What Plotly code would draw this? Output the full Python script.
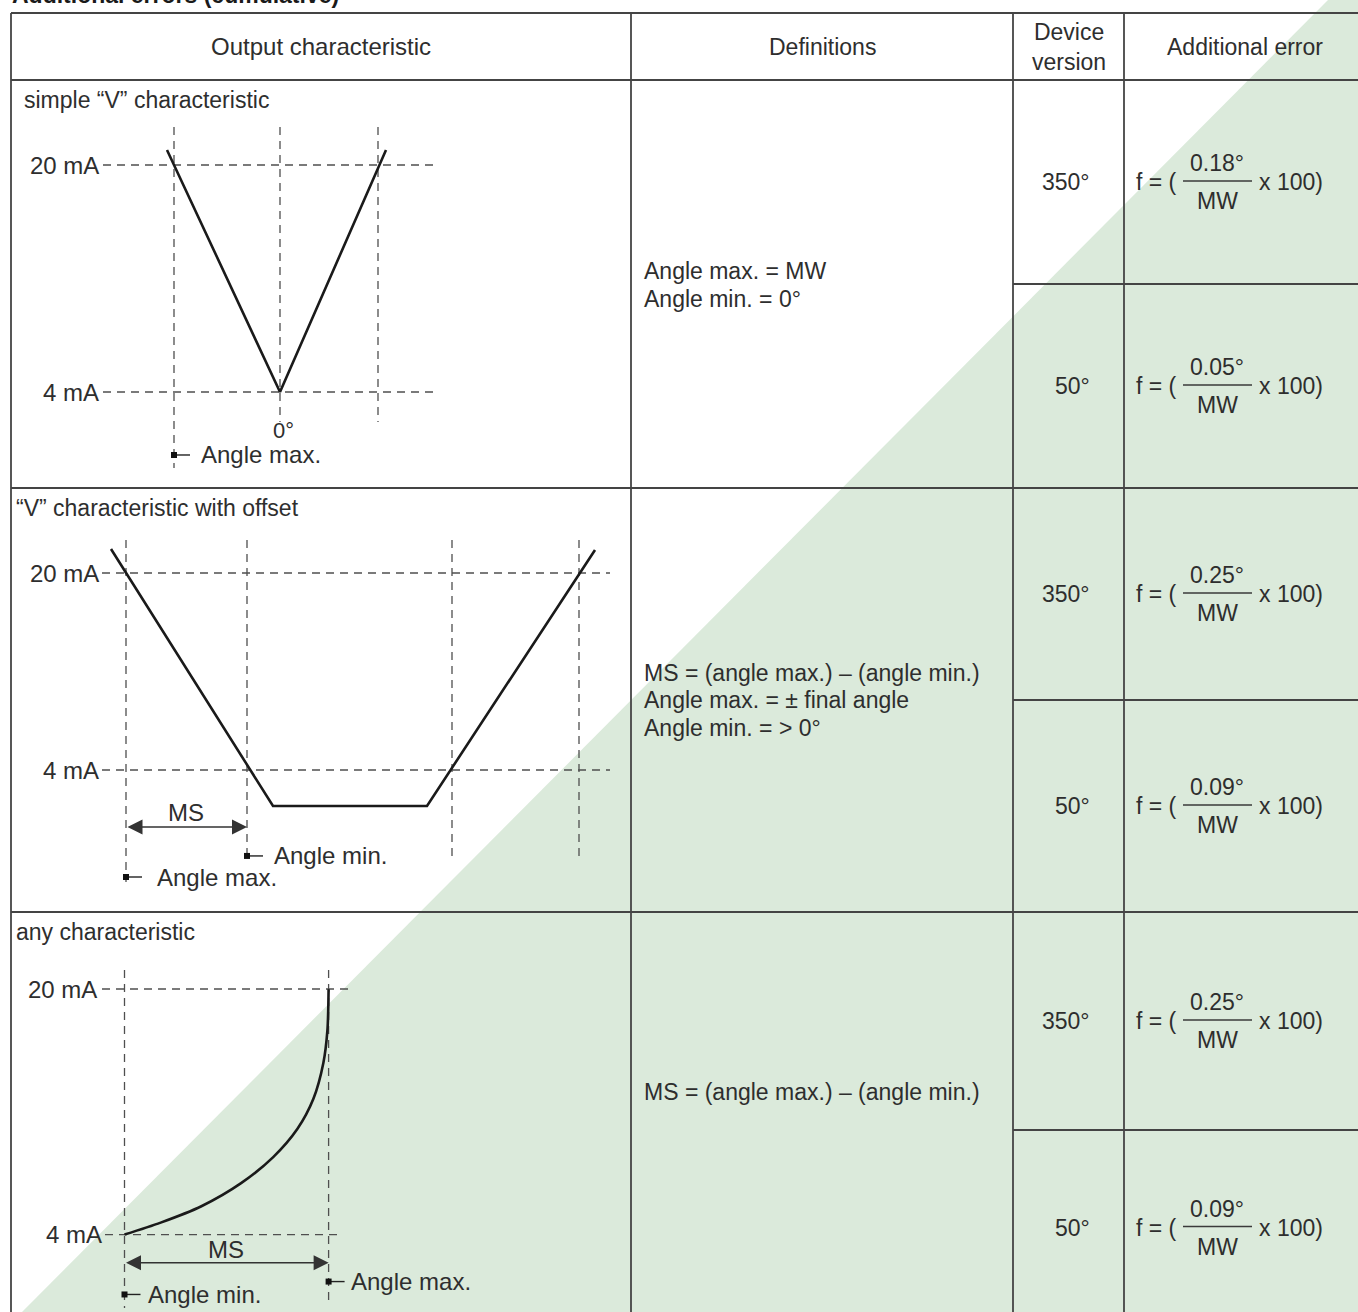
import plotly.graph_objects as go

W, H = 1358, 1312

# ---------------- data ----------------
title_text = "Additional errors (cumulative)"
header_labels = ["Output characteristic", "Definitions", "Device<br>version", "Additional error"]
row_titles = ["simple “V” characteristic", "“V” characteristic with offset", "any characteristic"]
definitions = [
    ["Angle max. = MW", "Angle min. = 0°"],
    ["MS = (angle max.) – (angle min.)", "Angle max. = ± final angle", "Angle min. = > 0°"],
    ["MS = (angle max.) – (angle min.)"],
]
device_versions = ["350°", "50°"]
error_coeffs = [["0.18°", "0.05°"], ["0.25°", "0.09°"], ["0.25°", "0.09°"]]
current_levels = [20, 4]
current_labels = ["20 mA", "4 mA"]

# diagram 1: simple V (schematic angle units, current in mA)
d1_curve_angle = [-11.3, 0, 10.6]
d1_curve_mA = [21.06, 4, 21.06]
d1_guide_angle = [-10.6, 0, 9.8]
d1_guide_bottom = [-1.36, 1.89, 1.89]

# diagram 2: V with offset
d2_curve_angle = [-23.9, -7.7, 7.7, 24.5]
d2_curve_mA = [21.95, 1.08, 1.08, 21.87]
d2_guide_angle = [-22.4, -10.3, 10.2, 22.9]
d2_guide_bottom = [-5.1, -3.31, -3.31, -3.31]

# diagram 3: any characteristic
d3_curve_angle = [0, 3.62, 7.64, 11.66, 14.87, 17.28, 18.89, 19.89, 20.29, 20.41]
d3_curve_mA = [4.0, 4.78, 5.83, 7.35, 9.05, 10.88, 12.85, 15.2, 17.3, 19.99]
d3_guide_angle = [0, 20.41]
d3_guide_bottom = [-0.78, -0.39]

# ---------------- layout geometry (px) ----------------
col_x = [11, 631, 1013, 1124, 1364]
row_y = [13, 80, 488, 912, 1325]
mid_y = [284, 700, 1130]
def_center = [285, 700, 1092]
GREEN = "#dbeadb"
LINE = "#444444"
TXT = "#2e2e2e"
FONT = "Liberation Sans, Arial, sans-serif"
FS = 23
FD = 24

# diagram calibrations: (px of angle 0, px per unit, py of 4 mA, py of 20 mA)
calib = {
    2: (280, 10.0, 392, 165),
    3: (350, 10.0, 770, 573),
    4: (124.5, 10.0, 1234.6, 989),
}

fig = go.Figure()

layout_axes = dict(
    xaxis=dict(range=[0, W], visible=False, domain=[0, 1], fixedrange=True),
    yaxis=dict(range=[H, 0], visible=False, domain=[0, 1], fixedrange=True),
)
for k, (x0, s, p4, p20) in calib.items():
    kk = (p4 - p20) / 16.0
    layout_axes[f"xaxis{k}"] = dict(range=[-x0 / s, (W - x0) / s], visible=False,
                                    overlaying="x", domain=[0, 1], fixedrange=True)
    layout_axes[f"yaxis{k}"] = dict(range=[4 + (p4 - H) / kk, 4 + p4 / kk], visible=False,
                                    overlaying="y", domain=[0, 1], fixedrange=True)

shapes = []
annotations = []

# green diagonal background
shapes.append(dict(type="path", path=f"M 1330,-2 L {W+4},-2 L {W+4},{H+4} L 18,{H+4} Z",
                   xref="x", yref="y", fillcolor=GREEN, line=dict(width=0), layer="below"))

def hline(y, x0, x1):
    shapes.append(dict(type="line", xref="x", yref="y", x0=x0, x1=x1, y0=y, y1=y,
                       line=dict(color=LINE, width=1.8)))

def vline(x, y0, y1):
    shapes.append(dict(type="line", xref="x", yref="y", x0=x, x1=x, y0=y0, y1=y1,
                       line=dict(color=LINE, width=1.8)))

for y in row_y:
    hline(y, col_x[0], col_x[-1])
for y in mid_y:
    hline(y, col_x[2], col_x[-1])
for x in col_x:
    vline(x, row_y[0], row_y[-1])

def text(x, y, t, xref="x", yref="y", size=FS, xanchor="center", yanchor="middle", bold=False, color=TXT):
    annotations.append(dict(x=x, y=y, xref=xref, yref=yref, text=f"<b>{t}</b>" if bold else t,
                            showarrow=False, xanchor=xanchor, yanchor=yanchor,
                            font=dict(family=FONT, size=size, color=color), align="center"))

# title (partly cut at the top edge)
text(10 / W, 1 - 10 / H, title_text, xref="paper", yref="paper", xanchor="left",
     yanchor="bottom", bold=True, size=23, color="#1a1a1a")

# header
hc = (row_y[0] + row_y[1]) / 2
for i, lab in enumerate(header_labels):
    text((col_x[i] + col_x[i + 1]) / 2 if i < 3 else 1245, hc, lab, size=24 if i == 0 else FS)

# row titles
for i, t in enumerate(row_titles):
    text(22 if i == 0 else 14, row_y[i + 1] + 20, t, xanchor="left")

# definitions
for i, lines in enumerate(definitions):
    c = def_center[i]
    n = len(lines)
    for j, ln in enumerate(lines):
        text(642, c + (j - (n - 1) / 2) * 27.5, ln, xanchor="left")

# device versions + formulas
for i in range(3):
    tops = [row_y[i + 1], mid_y[i]]
    bots = [mid_y[i], row_y[i + 2]]
    for j in range(2):
        c = (tops[j] + bots[j]) / 2
        text(1092, c, device_versions[j], xanchor="right")
        text(1134, c, "f = (", xanchor="left")
        text(1217, c - 19, error_coeffs[i][j])
        text(1217, c + 19, "MW")
        text(1257, c, "x 100)", xanchor="left")
        shapes.append(dict(type="line", xref="x", yref="y", x0=1183, x1=1252, y0=c - 1, y1=c - 1,
                           line=dict(color="#3a3a3a", width=1.4)))

# ---------------- diagrams ----------------
DASH = dict(color="#4f4f4f", width=1.3, dash="8px,6px")

def seg(k, xs, ys, line):
    fig.add_trace(go.Scatter(x=xs, y=ys, mode="lines", line=line, xaxis=f"x{k}", yaxis=f"y{k}",
                             hoverinfo="skip", showlegend=False))

def marker(k, xa, ya, label, tx):
    seg(k, [xa, xa + 1.6], [ya, ya], dict(color="#222", width=1.4))
    fig.add_trace(go.Scatter(x=[xa], y=[ya], mode="markers",
                             marker=dict(symbol="square", size=6, color="#111"),
                             xaxis=f"x{k}", yaxis=f"y{k}", hoverinfo="skip", showlegend=False))
    text(tx, ya, label, xref=f"x{k}", yref=f"y{k}", xanchor="left", size=FD)

def ms_arrow(k, xa, xb, ya, tx, ty):
    annotations.append(dict(x=xb, y=ya, ax=xa, ay=ya, xref=f"x{k}", yref=f"y{k}",
                            axref=f"x{k}", ayref=f"y{k}", text="", showarrow=True,
                            arrowhead=2, arrowside="end+start", arrowsize=2.0, arrowwidth=1.5,
                            arrowcolor="#333", standoff=0, startstandoff=0))
    text(tx, ty, "MS", xref=f"x{k}", yref=f"y{k}", size=FD)

# Diagram 1
for a, b in zip(d1_guide_angle, d1_guide_bottom):
    seg(2, [a, a], [22.68, b], DASH)
for lvl, lab in zip(current_levels, current_labels):
    seg(2, [-17.7, 15.3], [lvl, lvl], DASH)
    text(-17.9, lvl, lab, xref="x2", yref="y2", xanchor="right", size=FD)
seg(2, d1_curve_angle, d1_curve_mA, dict(color="#1a1a1a", width=2.6))
text(0.35, 1.3, "0°", xref="x2", yref="y2", size=22)
marker(2, d1_guide_angle[0], -0.44, "Angle max.", -8.1)

# Diagram 2
for a, b in zip(d2_guide_angle, d2_guide_bottom):
    seg(3, [a, a], [22.68, b], DASH)
for lvl, lab in zip(current_levels, current_labels):
    seg(3, [-24.8, 26.0], [lvl, lvl], DASH)
    text(-24.9, lvl, lab, xref="x3", yref="y3", xanchor="right", size=FD)
seg(3, d2_curve_angle, d2_curve_mA, dict(color="#1a1a1a", width=2.6))
ms_arrow(3, d2_guide_angle[0], d2_guide_angle[1], -0.63, -16.4, 0.55)
marker(3, d2_guide_angle[1], -2.98, "Angle min.", -7.8)
marker(3, d2_guide_angle[0], -4.69, "Angle max.", -19.5)

# Diagram 3
for a, b in zip(d3_guide_angle, d3_guide_bottom):
    seg(4, [a, a], [21.24, b], DASH)
seg(4, [-2.25, 22.5], [20, 20], DASH)
seg(4, [-1.95, 21.7], [4, 4], DASH)
text(-2.6, 20, current_labels[0], xref="x4", yref="y4", xanchor="right", size=FD)
text(-2.05, 4, current_labels[1], xref="x4", yref="y4", xanchor="right", size=FD)
seg(4, d3_curve_angle, d3_curve_mA, dict(color="#1a1a1a", width=2.6, shape="spline", smoothing=0.8))
ms_arrow(4, d3_guide_angle[0], d3_guide_angle[1], 2.16, 10.13, 3.05)
marker(4, d3_guide_angle[0], 0.10, "Angle min.", 2.1)
marker(4, d3_guide_angle[1], 0.94, "Angle max.", 22.42)

fig.update_layout(
    width=W, height=H, margin=dict(l=0, r=0, t=0, b=0),
    paper_bgcolor="white", plot_bgcolor="white",
    shapes=shapes, annotations=annotations, showlegend=False,
    **layout_axes,
)

fig.write_html("out.html", config={"displayModeBar": False},
               post_script="document.body.style.margin='0';document.body.style.padding='0';")
